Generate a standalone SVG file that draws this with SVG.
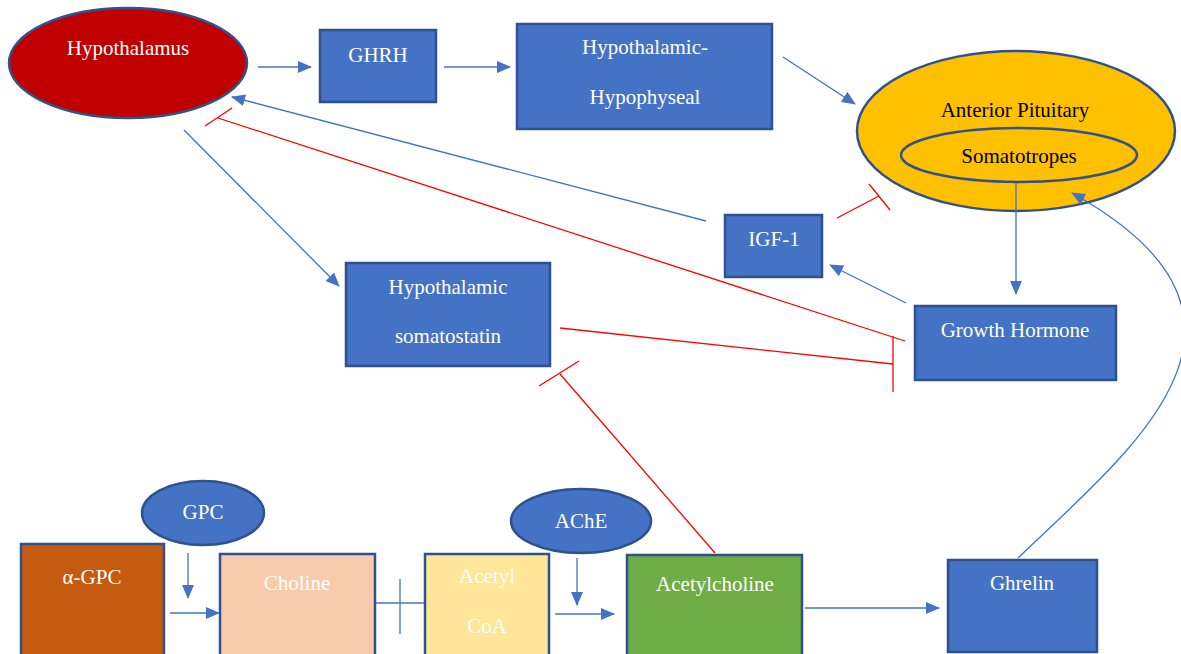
<svg xmlns="http://www.w3.org/2000/svg" width="1181" height="654" viewBox="0 0 1181 654">
<style>
.n{stroke:#2F528F;stroke-width:2.5}
.b{fill:#4472C4}
.t{font-family:"Liberation Serif","Times New Roman","DejaVu Serif",serif;font-size:21px;fill:#fff;text-anchor:middle}
.k{fill:#000}
.c{fill:none;stroke:#4472C4;stroke-width:1.3}
.r{fill:none;stroke:#FF0000;stroke-width:1.3}
</style>
<defs>
<marker id="a" markerUnits="userSpaceOnUse" markerWidth="14" markerHeight="14" viewBox="0 0 14 14" refX="13" refY="7" orient="auto">
<path d="M0,1 L14,7 L0,13 Z" fill="#4472C4"/>
</marker>
</defs>
<g id="hypothalamus"><ellipse class="n" cx="128" cy="63" rx="119" ry="55" fill="#C00000"/><text class="t" x="128" y="55">Hypothalamus</text></g>
<g id="ghrh"><rect class="n b" x="320" y="30" width="116" height="72"/><text class="t" x="378" y="62">GHRH</text></g>
<g id="hh"><rect class="n b" x="517" y="24" width="255" height="105"/><text class="t" x="645" y="54">Hypothalamic-</text><text class="t" x="645" y="104">Hypophyseal</text></g>
<g id="anterior-pituitary"><ellipse class="n" cx="1016" cy="131" rx="159" ry="80" fill="#FFC000"/><text class="t k" x="1015" y="117">Anterior Pituitary</text>
<ellipse class="n" cx="1019" cy="155" rx="118" ry="27" fill="#FFC000"/><text class="t k" x="1019" y="163">Somatotropes</text></g>
<g id="igf1"><rect class="n b" x="725" y="215" width="97" height="62"/><text class="t" x="774" y="246">IGF-1</text></g>
<g id="growth-hormone"><rect class="n b" x="915" y="306" width="201" height="74"/><text class="t" x="1015" y="337">Growth Hormone</text></g>
<g id="somatostatin"><rect class="n b" x="346" y="263" width="204" height="103"/><text class="t" x="448" y="294">Hypothalamic</text><text class="t" x="448" y="343">somatostatin</text></g>
<g id="agpc"><rect class="n" x="21" y="544" width="143" height="120" fill="#C55A11"/><text class="t" x="92" y="584">α-GPC</text></g>
<g id="gpc"><ellipse class="n b" cx="203" cy="513" rx="61" ry="32"/><text class="t" x="203" y="519">GPC</text></g>
<g id="choline"><rect class="n" x="220" y="554" width="155" height="110" fill="#F8CBAD"/><text class="t" x="297" y="590">Choline</text></g>
<g id="acetylcoa"><rect class="n" x="425" y="554" width="124" height="110" fill="#FFE699"/><text class="t" x="487" y="583">Acetyl</text><text class="t" x="487" y="633">CoA</text></g>
<g id="ache"><ellipse class="n b" cx="581" cy="521" rx="70" ry="32"/><text class="t" x="581" y="528">AChE</text></g>
<g id="acetylcholine"><rect class="n" x="627" y="555" width="175" height="110" fill="#70AD47"/><text class="t" x="715" y="591">Acetylcholine</text></g>
<g id="ghrelin"><rect class="n b" x="948" y="560" width="149" height="92"/><text class="t" x="1022" y="590">Ghrelin</text></g>
<g id="connectors">
<line class="c" x1="258" y1="67" x2="311" y2="67" marker-end="url(#a)"/>
<line class="c" x1="444" y1="67" x2="510" y2="67" marker-end="url(#a)"/>
<line class="c" x1="783" y1="57" x2="855" y2="104" marker-end="url(#a)"/>
<line class="c" x1="1016" y1="183" x2="1016" y2="294" marker-end="url(#a)"/>
<line class="c" x1="906" y1="303" x2="830" y2="265" marker-end="url(#a)"/>
<line class="c" x1="706" y1="221" x2="232" y2="97" marker-end="url(#a)"/>
<line class="c" x1="184" y1="130" x2="339" y2="286" marker-end="url(#a)"/>
<line class="r" x1="837" y1="218" x2="879" y2="196"/>
<line class="r" x1="869" y1="184" x2="890" y2="210"/>
<line class="r" x1="905" y1="341" x2="218" y2="118"/>
<line class="r" x1="205" y1="126" x2="232" y2="108"/>
<line class="r" x1="560" y1="328" x2="893" y2="364"/>
<line class="r" x1="893" y1="336" x2="893" y2="392"/>
<line class="r" x1="715" y1="553" x2="560" y2="374"/>
<line class="r" x1="539" y1="386" x2="579" y2="361"/>
<line class="c" x1="188" y1="553" x2="188" y2="598" marker-end="url(#a)"/>
<line class="c" x1="170" y1="613" x2="219" y2="613" marker-end="url(#a)"/>
<line class="c" x1="376" y1="603" x2="424" y2="603"/>
<line class="c" x1="400" y1="579" x2="400" y2="634"/>
<line class="c" x1="577" y1="558" x2="577" y2="605" marker-end="url(#a)"/>
<line class="c" x1="555" y1="614" x2="614" y2="614" marker-end="url(#a)"/>
<line class="c" x1="805" y1="608" x2="939" y2="608" marker-end="url(#a)"/>
<path class="c" d="M1018,558 C1130,450 1300,320 1072,193" marker-end="url(#a)"/>
</g>
</svg>
